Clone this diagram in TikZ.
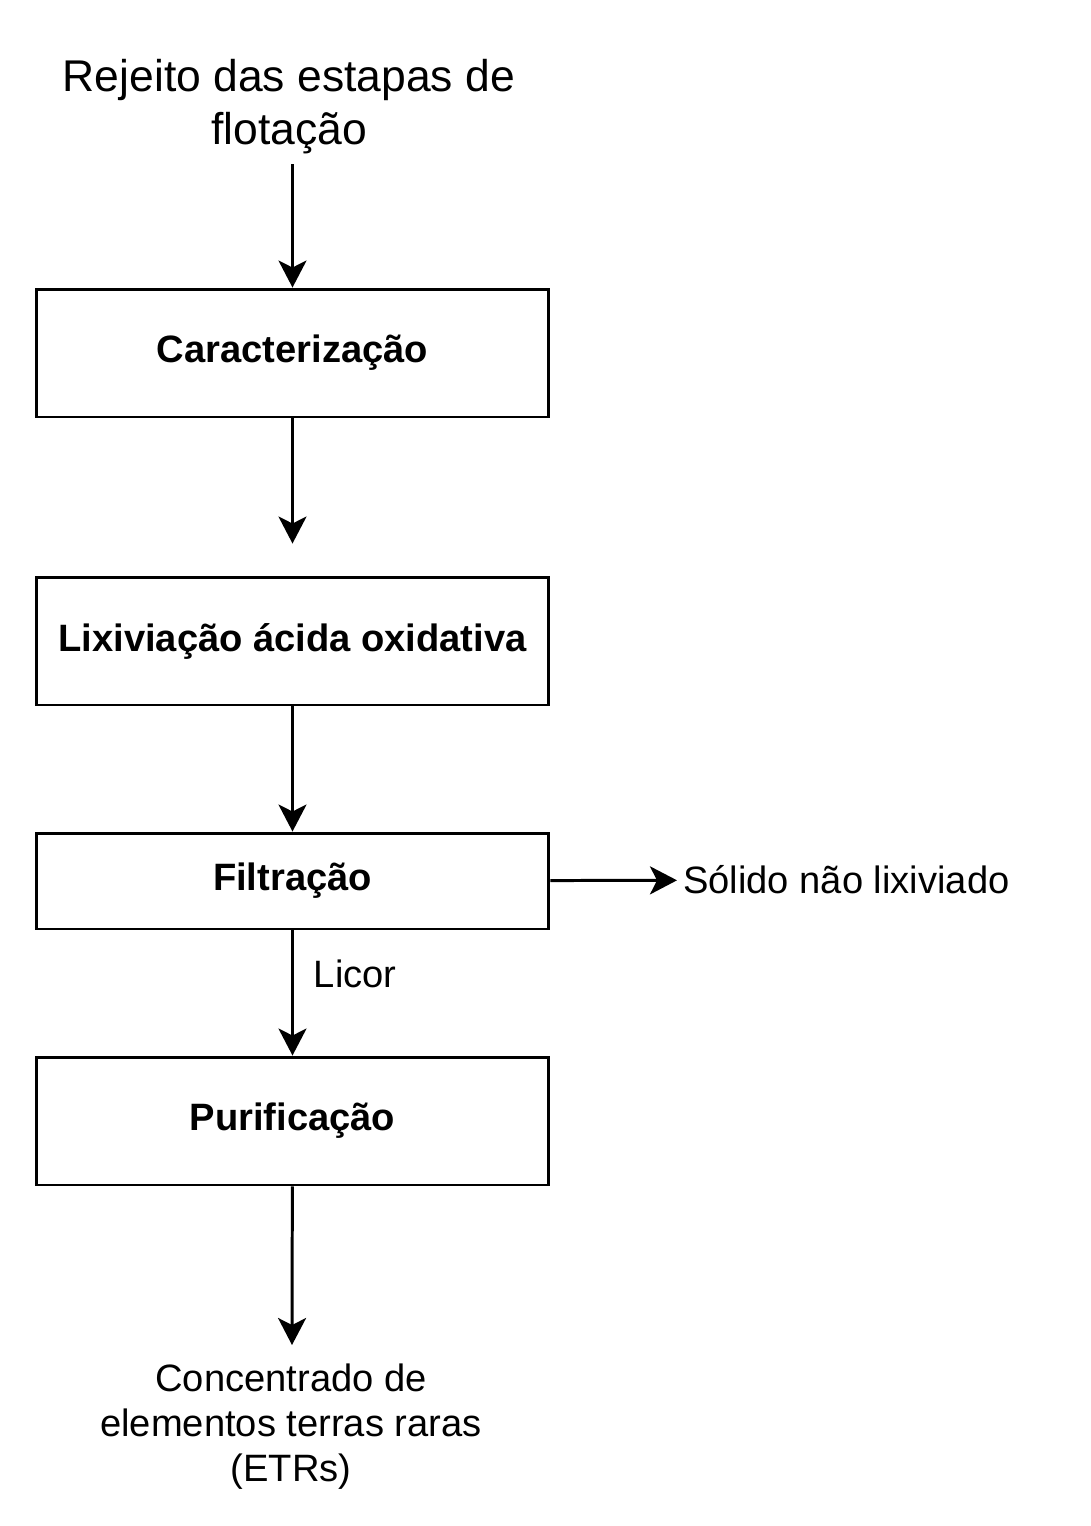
\documentclass[tikz,border=0pt]{standalone}
\usepackage{fontspec}
\setmainfont{Liberation Sans}
\usetikzlibrary{calc}
\usetikzlibrary{arrows.meta}

\begin{document}
\begin{tikzpicture}[x=0.02cm,y=-0.02cm]
    \tikzstyle{b}=[shape=rectangle,draw,line width=1.7pt,minimum width=10.26cm,minimum height=2.56cm,font=\fontsize{21.7}{26}\selectfont\bfseries]
    \tikzstyle{t}=[align=center,font=\fontsize{21.7}{25.6}\selectfont]
    \tikzstyle{a}=[-{Stealth[length=0.54cm,width=0.56cm,inset=0.14cm]},line width=1.7pt]

    \useasboundingbox (0,0) rectangle (1091,1526);

    % input
    \coordinate (input_c) at (289,49);
    \node[t,font=\fontsize{25.3}{30.2}\selectfont,anchor=north,inner ysep=0.2cm] (input) at (input_c) {Rejeito das estapas de\\flotação};

    % characterization
    \coordinate (carac_c) at (292.5,353);
    \node[b] (carac) at (carac_c) {Caracterização};

    \draw[a] (input.south -| carac) -- (carac);

    % leaching
    \coordinate (lix_c) at (292.5,641);
    \node[b] (lix) at (lix_c) {Lixiviação ácida oxidativa};

    \coordinate (carac_out) at ($(lix.north) + (0,-32)$);
    \draw[a] (carac) -- (carac_out);

    % filtration
    \coordinate (filt_c) at (292.5,881);
    \node[b,minimum height=1.92cm] (filt) at (filt_c) {Filtração};

    \draw[a] (lix) -- (filt);

    % solid residue
    \node[t,anchor=west] (solido) at (677,880) {Sólido não lixiviado};

    \draw[a] (filt) -- (solido);

    % purification
    \coordinate (purif_c) at (292.5,1121);
    \node[b] (purif) at (purif_c) {Purificação};

    \draw[a] (filt) -- (purif) node[t,midway,right,xshift=0.28cm,yshift=0.38cm] {Licor};

    % product
    \coordinate (purif_out) at (292,1345);
    \node[t,anchor=north] (etr) at (291,1358) {Concentrado de\\elementos terras raras\\(ETRs)};

    \draw[a] (purif) -- (purif_out);

\end{tikzpicture}
\end{document}
